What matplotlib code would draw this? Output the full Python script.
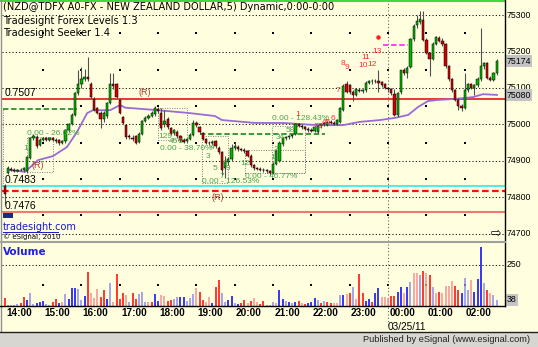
import matplotlib
matplotlib.use("Agg")
import matplotlib.pyplot as plt
from matplotlib.patches import Rectangle
from matplotlib.lines import Line2D

W, H = 538, 347

# 5 minute bars starting 14:00, prices in 1e-5 units
opens = [74832, 74868, 74878, 74875, 74873, 74876, 74874, 74872, 74908, 74962,
         74966, 74944, 74958, 74962, 74958, 74962, 74957, 74956, 74948, 74954,
         74984, 75002, 75026, 75086, 75110, 75126, 75130, 75112, 75070, 75044,
         75032, 75014, 75022, 75060, 75112, 75110, 75066, 75020, 74998, 74968,
         74964, 74968, 74952, 74975, 75010, 75018, 75024, 75028, 75042, 75032,
         75000, 75016, 74990, 74976, 74980, 74968, 74957, 74954, 74960, 74972,
         75004, 74992, 74976, 74960, 74950, 74948, 74955, 74936, 74924, 74880,
         74896, 74905, 74935, 74938, 74932, 74930, 74926, 74914, 74888, 74880,
         74877, 74876, 74874, 74872, 74868, 74892, 74900, 74946, 74962, 74965,
         74968, 74975, 75000, 74996, 74992, 74988, 74985, 74982, 74980, 74995,
         75000, 74998, 75006, 75004, 75002, 75008, 75040, 75112, 75108, 75088,
         75082, 75095, 75092, 75094, 75115, 75118, 75120, 75118, 75116, 75110,
         75100, 75096, 75084, 75026, 75088, 75150, 75140, 75158, 75235, 75272,
         75280, 75286, 75232, 75196, 75180, 75222, 75238, 75230, 75220, 75160,
         75125, 75095, 75068, 75050, 75045, 75095, 75110, 75100, 75108, 75125,
         75160, 75168, 75128, 75122, 75140]
highs = [74836, 74886, 74882, 74879, 74878, 74880, 74882, 74914, 74966, 74974,
         74970, 74962, 74966, 74966, 74965, 74966, 74962, 74960, 74958, 74988,
         75004, 75030, 75090, 75150, 75158, 75152, 75185, 75116, 75074, 75048,
         75036, 75036, 75062, 75140, 75142, 75114, 75070, 75024, 75002, 74975,
         74972, 74972, 74978, 75012, 75022, 75028, 75036, 75050, 75048, 75046,
         75040, 75020, 74994, 74988, 74984, 74972, 74962, 74964, 74976, 75012,
         75010, 74996, 74980, 74964, 74954, 74956, 74958, 74940, 74928, 74912,
         74910, 74946, 74952, 74944, 74936, 74934, 74930, 74918, 74892, 74884,
         74882, 74880, 74878, 74876, 74896, 74932, 74954, 74966, 74968, 74972,
         74975, 75004, 75004, 75000, 74996, 74992, 74990, 74996, 74998, 75004,
         75008, 75010, 75012, 75010, 75016, 75048, 75112, 75118, 75112, 75094,
         75100, 75100, 75098, 75118, 75122, 75124, 75126, 75150, 75120, 75114,
         75104, 75100, 75096, 75088, 75150, 75156, 75160, 75238, 75275, 75300,
         75312, 75312, 75236, 75200, 75226, 75244, 75242, 75236, 75224, 75164,
         75128, 75098, 75072, 75056, 75140, 75114, 75114, 75112, 75130, 75265,
         75172, 75172, 75132, 75144, 75180]
lows = [74782, 74864, 74872, 74870, 74869, 74871, 74870, 74868, 74904, 74958,
        74936, 74940, 74954, 74955, 74954, 74955, 74950, 74944, 74945, 74950,
        74980, 74998, 75022, 75082, 75100, 75118, 75120, 75072, 75036, 75028,
        74990, 75008, 75018, 75056, 75098, 75072, 75028, 75000, 74960, 74960,
        74955, 74946, 74948, 74970, 75006, 75014, 75020, 75024, 75032, 74986,
        74994, 74988, 74970, 74972, 74964, 74952, 74950, 74950, 74956, 74968,
        74994, 74974, 74956, 74946, 74944, 74944, 74936, 74920, 74862, 74852,
        74888, 74900, 74930, 74928, 74926, 74922, 74910, 74884, 74876, 74874,
        74872, 74870, 74868, 74862, 74864, 74888, 74896, 74942, 74958, 74960,
        74962, 74970, 74992, 74988, 74984, 74980, 74978, 74978, 74976, 74990,
        74996, 74995, 75000, 74998, 74998, 75004, 75036, 75086, 75084, 75064,
        75078, 75088, 75086, 75090, 75110, 75112, 75114, 75088, 75104, 75096,
        75090, 75082, 75022, 75020, 75084, 75136, 75128, 75154, 75230, 75266,
        75276, 75228, 75192, 75134, 75176, 75218, 75226, 75216, 75156, 75120,
        75090, 75064, 75040, 75038, 75042, 75090, 75096, 75080, 75104, 75120,
        75152, 75124, 75118, 75118, 75136]
closes = [74808, 74880, 74875, 74873, 74876, 74874, 74879, 74910, 74962, 74968,
          74942, 74958, 74962, 74958, 74962, 74957, 74954, 74948, 74955, 74984,
          75000, 75026, 75086, 75112, 75126, 75130, 75124, 75076, 75040, 75032,
          75014, 75030, 75058, 75112, 75106, 75076, 75032, 75004, 74966, 74965,
          74960, 74950, 74975, 75010, 75018, 75024, 75032, 75045, 75036, 74990,
          75010, 74992, 74975, 74984, 74968, 74957, 74953, 74960, 74972, 75005,
          74998, 74978, 74960, 74950, 74948, 74952, 74940, 74925, 74874, 74896,
          74905, 74935, 74940, 74932, 74930, 74926, 74914, 74888, 74880, 74877,
          74876, 74874, 74872, 74868, 74892, 74928, 74950, 74962, 74965, 74968,
          74972, 75000, 74996, 74992, 74988, 74985, 74982, 74993, 74995, 75000,
          75004, 75006, 75004, 75002, 75012, 75045, 75105, 75090, 75088, 75080,
          75098, 75092, 75094, 75115, 75118, 75120, 75118, 75115, 75108, 75100,
          75096, 75087, 75026, 75085, 75148, 75140, 75155, 75235, 75270, 75285,
          75290, 75232, 75196, 75180, 75222, 75240, 75230, 75220, 75160, 75125,
          75095, 75068, 75050, 75045, 75095, 75110, 75100, 75108, 75125, 75160,
          75168, 75128, 75122, 75140, 75174]
volumes = [51, 6, 6, 6, 10, 16, 57, 37, 81, 10,
           16, 26, 30, 12, 6, 26, 41, 20, 22, 73,
           43, 108, 108, 104, 37, 61, 205, 77, 51, 104,
           57, 97, 41, 142, 26, 193, 43, 81, 67, 26,
           81, 41, 73, 87, 26, 26, 26, 71, 32, 67,
           61, 32, 37, 41, 57, 53, 53, 30, 47, 73,
           108, 83, 37, 26, 57, 20, 118, 158, 81, 26,
           37, 61, 20, 12, 16, 37, 16, 32, 47, 26,
           12, 30, 6, 6, 22, 20, 97, 43, 32, 26,
           20, 26, 30, 16, 12, 20, 26, 47, 37, 16,
           30, 22, 20, 16, 16, 67, 67, 73, 81, 118,
           41, 195, 77, 30, 43, 26, 81, 108, 53, 57,
           47, 61, 61, 87, 118, 77, 118, 148, 203, 199,
           189, 215, 199, 189, 118, 81, 87, 81, 122, 122,
           152, 122, 97, 77, 168, 97, 158, 87, 162, 361,
           142, 97, 77, 67, 38]
# r = red, b = blue, pr = pale red, pb = pale blue
vol_kind = ["r", "pb", "pb", "pb", "pb", "r", "r", "b", "pb", "pb",
            "b", "b", "b", "pb", "pb", "r", "r", "b", "pr", "pb",
            "b", "b", "b", "pb", "pb", "b", "r", "pr", "pr", "pr",
            "r", "r", "b", "pb", "pr", "r", "r", "r", "pr", "pb",
            "r", "r", "pb", "pb", "pb", "pr", "r", "b", "b", "pr",
            "pr", "r", "r", "pb", "pb", "b", "b", "pb", "pb", "pb",
            "pr", "r", "r", "pr", "pr", "b", "r", "r", "pb", "pb",
            "b", "b", "pb", "b", "r", "r", "pr", "r", "pr", "pr",
            "r", "r", "pb", "pb", "pb", "pr", "b", "b", "pb", "b",
            "pb", "b", "r", "pr", "r", "b", "b", "b", "pb", "r",
            "pb", "r", "r", "pr", "pr", "pb", "b", "pr", "r", "pb",
            "pr", "r", "r", "b", "b", "r", "b", "b", "pr", "pr",
            "pr", "r", "r", "b", "b", "pr", "b", "pb", "pr", "pr",
            "pb", "r", "pr", "r", "pb", "pr", "r", "pr", "pr", "pr",
            "pr", "r", "r", "b", "pb", "pb", "pr", "b", "b", "b",
            "pb", "r", "pr", "pb", "pb"]

# moving average read at a few bar positions
ma_bar = [1.0, 6.4, 10.4, 15.1, 19.5, 22.6, 25.8, 27.6, 33.0, 36.1, 37.7, 48.0,
          58.0, 65.8, 68.0, 78.4, 87.1, 97.8, 105.9, 111.2, 117.5, 122.2, 126.3,
          129.4, 132.5, 135.4, 141.0, 146.6, 149.7, 154.1]
ma_value = [74875, 74870, 74902, 74913, 74938, 74979, 75031, 75039, 75039, 75053,
            75046, 75039, 75031, 75023, 75012, 75004, 75004, 74998, 74998, 75007,
            75012, 75018, 75026, 75048, 75064, 75067, 75070, 75075, 75083, 75081]

hour_bars = [0, 12, 24, 36, 48, 60, 72, 84, 96, 108, 120, 132, 144]
hour_labels = ["14:00", "15:00", "16:00", "17:00", "18:00", "19:00", "20:00",
               "21:00", "22:00", "23:00", "00:00", "01:00", "02:00"]
price_ticks = [75300, 75200, 75100, 75000, 74900, 74800, 74700]

# seeker boxes: left bar, right bar, top, bottom
box_left = [7.0, 48.0, 61.8, 75.2, 83.7]
box_right = [15.1, 57.1, 69.9, 94.0, 94.0]
box_top = [74965, 75045, 74968, 74930, 74995]
box_bottom = [74869, 74957, 74839, 74867, 74867]

fib_text = ["0.00 - 26.02%", "0.00 - 38.70%", "0.00 - 126.53%", "0.00 - 46.77%", "0.00 - 128.43%"]
fib_bar = [7.0, 48.6, 61.8, 75.2, 83.7]
fib_price = [74976, 74935, 74842, 74858, 75015]

green_nums = ["1", "129", "45", "6", "4", "3", "5", "7", "8", "9", "12", "1", "2", "34", "58"]
green_bar = [6.7, 50.2, 52.7, 54.9, 64.9, 63.7, 65.8, 68.0, 69.0, 69.9, 75.2, 84.0, 85.0, 86.3, 89.3]
green_price = [74935, 74968, 74954, 74954, 74938, 74913, 74880, 74856, 74894, 74880,
               74894, 74910, 74930, 74964, 74982]
red_nums = ["1", "23", "45", "6", "7", "8", "9", "10", "11", "12", "13"]
red_bar = [91.8, 98.1, 100.6, 102.8, 104.4, 106.0, 107.2, 112.2, 112.9, 115.0, 116.6]
red_price = [75026, 74993, 75004, 75017, 75094, 75168, 75157, 75163, 75184, 75165, 75201]

BG = "#ffffe0"
SANS = ["Liberation Sans", "DejaVu Sans"]
fig = plt.figure(figsize=(W / 100, H / 100), dpi=100, facecolor=BG)


def fx(px):
    return px / W


def fy(py):
    return 1 - py / H


ax = fig.add_axes([fx(2), fy(241), 503 / W, 239 / H])
vax = fig.add_axes([fx(2), fy(306), 503 / W, 63 / H])
for a in (ax, vax):
    a.set_facecolor("none")
    a.set_xlim(-0.85, 156.6)
    for s in a.spines.values():
        s.set_visible(False)
    a.set_xticks([])
    a.set_yticks([])
ax.set_ylim(74680, 75336)
vax.set_ylim(0, 384)

dot = (0, (1, 2.2))
for p in price_ticks:
    ax.axhline(p, color="black", lw=0.75, ls=dot, zorder=1)
for p in [75250, 75150, 75050, 74950, 74850, 74750]:
    ax.scatter(hour_bars[1:], [p] * 12, s=0.6, marker="s", color="black", lw=0, zorder=1)
vax.axhline(250, color="black", lw=0.75, ls=dot)
vax.scatter(hour_bars[1:], [125] * 12, s=0.6, marker="s", color="black", lw=0)
ax.axvline(120, color="#555555", lw=0.75, ls=dot)
vax.axvline(120, ymin=-0.3, ymax=1, color="#555555", lw=0.75, ls=dot, clip_on=False)

# level lines
ax.axhline(75070, color="#e01818", lw=1.2, zorder=2)
ax.axhline(74830, color="#30e8f0", lw=1.2, zorder=2)
ax.axhline(74817, color="#ff1010", lw=1.6, ls=(0, (3, 1.5)), zorder=2)
ax.axhline(74760, color="#f07a70", lw=1.5, zorder=2)
ax.hlines(75042, -0.5, 22.6, color="#2f8f2f", lw=1.3, ls=(0, (3, 1.5)), zorder=2)
ax.hlines(74973, 61.1, 100.3, color="#2f8f2f", lw=1.3, ls=(0, (3, 1.5)), zorder=2)
ax.hlines(75218, 118.4, 126.3, color="#ff30ff", lw=1.3, ls=(0, (3, 1.5)), zorder=2)
ax.scatter([116.9], [75240], s=5, color="#ff2020", zorder=3)

for l, r, t, b in zip(box_left, box_right, box_top, box_bottom):
    ax.add_patch(Rectangle((l, b), r - l, t - b, fill=False, ec="#808080", lw=0.7,
                           ls=(0, (1, 1.5)), zorder=2))
ax.vlines(-0.53, 74830, 75042, color="#808080", lw=0.7, ls=(0, (1, 1.5)), zorder=2)

ax.plot(ma_bar, ma_value, color="#9a6ad8", lw=1.3, zorder=3)

# candles
idx = list(range(len(opens)))
ax.vlines(idx, lows, highs, color="#505050", lw=0.8, zorder=4)
body_col = ["#00b400" if c >= o else "#d00000" for o, c in zip(opens, closes)]
ax.bar(idx, [max(abs(c - o), 2) for o, c in zip(opens, closes)],
       bottom=[min(o, c) for o, c in zip(opens, closes)], width=0.7,
       color=body_col, edgecolor="black", lw=0.35, zorder=5)

# volume
kind_col = {"r": "#ff0000", "b": "#0000ff", "pr": "#f79090", "pb": "#8c8cf0"}
vax.vlines(idx, 0, volumes, colors=[kind_col[k] for k in vol_kind], lw=1.1)

# annotations
for s, b, p in zip(fib_text, fib_bar, fib_price):
    ax.text(b, p, s, color="#4ca04c", fontsize=6, family=SANS, va="center", ha="left", zorder=6)
for s, b, p in zip(green_nums, green_bar, green_price):
    ax.text(b, p, s, color="#4ca04c", fontsize=6, family=SANS, va="center", ha="center", zorder=6)
for s, b, p in zip(red_nums, red_bar, red_price):
    ax.text(b, p, s, color="#ff2a2a", fontsize=6, family=SANS, va="center", ha="center", zorder=6)
for b, p in [(43.9, 75074), (10.4, 74876), (66.8, 74786)]:
    ax.text(b, p, "(R)", color="#a83c2a", fontsize=6.5, family=SANS, va="bottom",
            ha="center", zorder=6)
for s, p in [("0.7507", 75073), ("0.7483", 74833), ("0.7476", 74763)]:
    ax.text(-0.1, p, s, color="black", fontsize=7.5, family=SANS, va="bottom", ha="left", zorder=6)

# right axis
RFS = 6.3
for p in price_ticks:
    ax.text(1.003, p, str(p), transform=ax.get_yaxis_transform(), fontsize=RFS,
            family=SANS, va="center", ha="left", clip_on=False)
for p in [75174, 75080]:
    ax.text(1.003, p, str(p), transform=ax.get_yaxis_transform(), fontsize=RFS,
            family=SANS, va="center", ha="left", clip_on=False,
            bbox=dict(boxstyle="square,pad=0.15", fc="#c4c4c4", ec="none"))
vax.text(1.003, 250, "250", transform=vax.get_yaxis_transform(), fontsize=RFS,
         family=SANS, va="center", ha="left", clip_on=False)
vax.text(1.003, 38, "38", transform=vax.get_yaxis_transform(), fontsize=RFS,
         family=SANS, va="center", ha="left", clip_on=False,
         bbox=dict(boxstyle="square,pad=0.15", fc="#c4c4c4", ec="none"))

for b, s in zip(hour_bars, hour_labels):
    vax.text(b + 0.4, -0.11, s, transform=vax.get_xaxis_transform(), fontsize=7.2,
             family=SANS, fontweight="bold", va="center", ha="left", clip_on=False)
vax.text(120, -0.33, "03/25/11", transform=vax.get_xaxis_transform(), fontsize=7.2,
         family=SANS, va="center", ha="left", clip_on=False)

# frame and header texts
fig.text(fx(3), fy(7), "(NZD@TDFX A0-FX - NEW ZEALAND DOLLAR,5) Dynamic,0:00-0:00",
         fontsize=7.1, va="center", ha="left")
fig.text(fx(3), fy(21), "Tradesight Forex Levels 1.3", fontsize=7.1, va="center", ha="left")
fig.text(fx(3), fy(33), "Tradesight Seeker 1.4", fontsize=7.1, va="center", ha="left")
fig.text(fx(3), fy(252), "Volume", fontsize=7.5, fontweight="bold", color="#2020e0",
         va="center", ha="left")
fig.text(fx(3), fy(227), "tradesight.com", fontsize=7, color="#1818d0", va="center", ha="left")
fig.add_artist(Line2D([fx(3), fx(58)], [fy(232), fy(232)], color="#1818d0", lw=0.7))
fig.text(fx(3), fy(237), "\u00a9 eSignal, 2010", fontsize=5, va="center", ha="left")
fig.add_artist(Rectangle((fx(3), fy(218)), 10 / W, 5 / H, fc="#1a2a8a", ec="none"))
fig.text(fx(496), fy(233), "\u21e8", fontsize=9, va="center", ha="center")

fig.add_artist(Line2D([0, fx(505)], [fy(0.5), fy(0.5)], color="#20d020", lw=1.2))
fig.add_artist(Line2D([fx(0.5), fx(0.5)], [fy(0), fy(331)], color="#909090", lw=1))
fig.add_artist(Line2D([fx(505), fx(505)], [fy(0), fy(306)], color="black", lw=1))
fig.add_artist(Line2D([0, fx(505)], [fy(241.5), fy(241.5)], color="#a0a0a0", lw=1.5))
fig.add_artist(Line2D([0, fx(505)], [fy(306), fy(306)], color="black", lw=1))
fig.add_artist(Rectangle((0, 0), 1, 15 / H, fc="#d8d6d0", ec="none"))
fig.add_artist(Line2D([0, 1], [fy(331.5), fy(331.5)], color="#202020", lw=1))
fig.text(fx(530), fy(339.5), "Published by eSignal (www.esignal.com)", fontsize=6.7,
         family=SANS, color="#222222", va="center", ha="right")

fig.savefig("out.png", dpi=100, facecolor=BG)
